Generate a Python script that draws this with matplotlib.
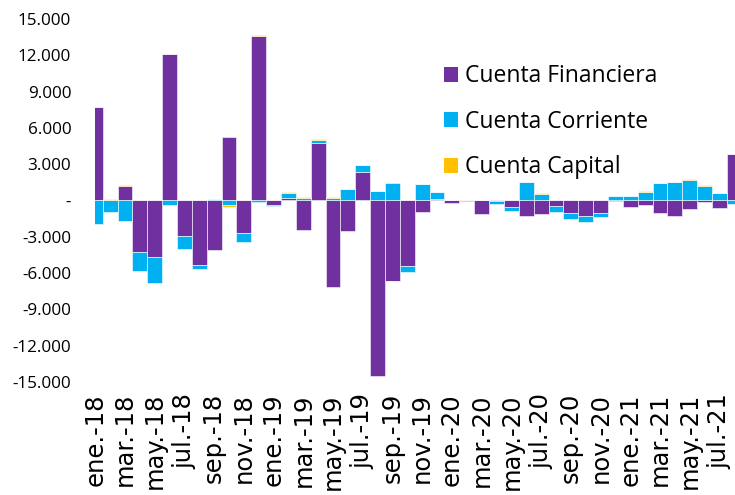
import matplotlib
matplotlib.use('Agg')
import matplotlib.pyplot as plt
from matplotlib.ticker import FuncFormatter
from matplotlib.patches import Patch
import numpy as np

# monthly data, ene-18 .. ago-21 (millones USD)
meses = ['ene.-18', 'feb.-18', 'mar.-18', 'abr.-18', 'may.-18', 'jun.-18', 'jul.-18', 'ago.-18',
         'sep.-18', 'oct.-18', 'nov.-18', 'dic.-18', 'ene.-19', 'feb.-19', 'mar.-19', 'abr.-19',
         'may.-19', 'jun.-19', 'jul.-19', 'ago.-19', 'sep.-19', 'oct.-19', 'nov.-19', 'dic.-19',
         'ene.-20', 'feb.-20', 'mar.-20', 'abr.-20', 'may.-20', 'jun.-20', 'jul.-20', 'ago.-20',
         'sep.-20', 'oct.-20', 'nov.-20', 'dic.-20', 'ene.-21', 'feb.-21', 'mar.-21', 'abr.-21',
         'may.-21', 'jun.-21', 'jul.-21', 'ago.-21']

financiera = [7700, 60, 1220, -4280, -4640, 12080, -2930, -5330,
              -4090, 5250, -2710, 13610, -400, 200, -2440, 4780,
              -7120, -2490, 2380, -14500, -6650, -5380, -930, 120,
              -230, -30, -1090, -60, -510, -1250, -1140, -450,
              -1000, -1280, -1000, -60, -510, -350, -1000, -1250,
              -730, -90, -620, 3820]
corriente = [-1940, -950, -1670, -1520, -2150, -370, -1100, -360,
             120, -350, -750, -125, -60, 440, 230, 250,
             230, 920, 530, 780, 1420, -500, 1340, 580,
             30, 50, 60, -200, -360, 1550, 560, -470,
             -520, -520, -360, 370, 370, 730, 1420, 1500,
             1720, 1220, 640, -260]
capital = [50, 40, 30, 30, 20, 50, 20, 20,
           20, -220, 30, 30, 40, 50, 20, 50,
           20, 30, 50, 30, -40, 20, 40, 30,
           40, 20, 20, 20, 20, 20, 20, 20,
           20, 20, 20, 20, 20, 20, 20, 20,
           20, 20, 20, 20]

series = [('Cuenta Financiera', financiera, '#7030A0'),
          ('Cuenta Corriente', corriente, '#00B0F0'),
          ('Cuenta Capital', capital, '#FFC000')]

plt.rcParams['font.family'] = ['Open Sans', 'DejaVu Sans']

fig = plt.figure(figsize=(7.35, 4.95), dpi=100)
ax = fig.add_axes([0.129, 0.2283, 0.871, 0.7333])

x = np.arange(len(meses))
pos = np.zeros(len(meses))
neg = np.zeros(len(meses))
for name, vals, col in series:
    v = np.array(vals, dtype=float)
    bottom = np.where(v >= 0, pos, neg)
    ax.bar(x, v, width=1.0, bottom=bottom, color=col, edgecolor='white', linewidth=0.4)
    pos = pos + np.where(v >= 0, v, 0)
    neg = neg + np.where(v < 0, v, 0)

ax.set_xlim(-0.03, 43.05)
ax.set_ylim(-15000, 15000)
ax.set_yticks(np.arange(-15000, 15001, 3000))


def fmt(v, p):
    if v == 0:
        return '-'
    return '{:,.0f}'.format(v).replace(',', '.')


ax.yaxis.set_major_formatter(FuncFormatter(fmt))
ax.set_xticks(x[::2])
ax.set_xticklabels(meses[::2], rotation=90, family='DejaVu Sans')
ax.tick_params(axis='both', length=0)
ax.tick_params(axis='x', labelsize=17.5, pad=8)
ax.tick_params(axis='y', labelsize=12.3, pad=17)
for s in ax.spines.values():
    s.set_visible(False)

handles = [Patch(facecolor=c, label=n) for n, _, c in series]
fig.legend(handles=handles, loc='upper left', bbox_to_anchor=(0.576, 0.912),
           frameon=False, fontsize=16.5, handlelength=0.62, handleheight=0.62,
           handletextpad=0.3, labelspacing=0.94)

fig.savefig('out.png', dpi=100)
